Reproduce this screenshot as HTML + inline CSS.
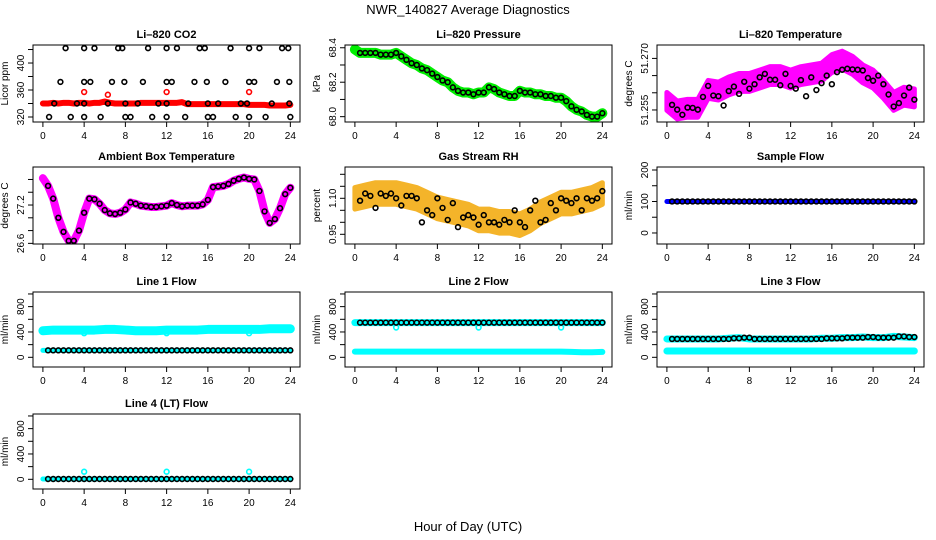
<!DOCTYPE html>
<html><head><meta charset="utf-8"><style>
html,body{margin:0;padding:0;background:#fff;}
svg{display:block;font-family:"Liberation Sans",sans-serif;}
</style></head><body>
<svg id="chart" width="936" height="540" viewBox="0 0 936 540">
<text x="468" y="14" text-anchor="middle" font-size="13">NWR_140827  Average Diagnostics</text>
<text x="468" y="531" text-anchor="middle" font-size="13">Hour of Day (UTC)</text>
</svg>
<script>
// shared hour arrays
const hoursHalf = [0,0.5,1,1.5,2,2.5,3,3.5,4,4.5,5,5.5,6,6.5,7,7.5,8,8.5,9,9.5,10,10.5,11,11.5,12,12.5,13,13.5,14,14.5,15,15.5,16,16.5,17,17.5,18,18.5,19,19.5,20,20.5,21,21.5,22,22.5,23,23.5,24];
const hoursCirc = [0.5,1,1.5,2,2.5,3,3.5,4,4.5,5,5.5,6,6.5,7,7.5,8,8.5,9,9.5,10,10.5,11,11.5,12,12.5,13,13.5,14,14.5,15,15.5,16,16.5,17,17.5,18,18.5,19,19.5,20,20.5,21,21.5,22,22.5,23,23.5,24];
const hoursHourly = [0,1,2,3,4,5,6,7,8,9,10,11,12,13,14,15,16,17,18,19,20,21,22,23,24];
const xTicks = [0,4,8,12,16,20,24];

// CO2
const co2Red = [340,340,341,340,341,341,340,341,341,340,341,341,343,341,340,340,340,340,340,341,341,341,341,341,341,341,341,342,339,339,339,339,339,339,339,339,339,339,339,339,338,338,338,338,337,337,337,337,338];
const co2RedCircT = [4,6.3,12,20];
const co2RedCircV = [357,353,357,357];
const co2BlkT = [2.2,4,5,7.3,7.7,10.2,12,13,15.2,15.7,18.2,20,21,23.2,23.8, 1.7,4,4.6,6.7,7.9,9.7,12,12.5,14.7,15.9,17.7,20,20.5,22.7,23.9, 1.1,3.3,4,6.3,8,9.2,11.2,12,14.1,16,17,19.2,19.8,22.2,23.9, 0.6,2.7,4,5.6,8,8.5,10.6,12,13.8,16,16.5,18.7,20,21.6,24];
const co2BlkV = [422,422,422,422,422,422,422,422,422,422,422,422,422,422,422, 372,372,372,372,372,372,372,372,372,372,372,372,372,372,372, 340,340,340,340,340,340,340,340,340,340,340,340,340,340,340, 320,320,320,320,320,320,320,320,320,320,320,320,320,320,320];

// Pressure
const pres = [68.39,68.37,68.37,68.37,68.37,68.36,68.36,68.36,68.37,68.35,68.33,68.31,68.30,68.28,68.27,68.25,68.23,68.21,68.20,68.17,68.15,68.14,68.14,68.13,68.14,68.14,68.17,68.16,68.14,68.13,68.12,68.12,68.15,68.14,68.14,68.13,68.13,68.12,68.12,68.11,68.11,68.09,68.06,68.04,68.03,68.01,68.00,68.00,68.02];

// Li-820 temperature
const tempTrend = [51.2575,51.2550,51.2555,51.2555,51.2610,51.2605,51.2620,51.2630,51.2630,51.2640,51.2650,51.2650,51.2640,51.2650,51.2655,51.2660,51.2685,51.2695,51.2680,51.2655,51.2640,51.2610,51.2575,51.2590,51.2585];
const tempBlk = [51.2565,51.2551,51.2536,51.2557,51.2556,51.2551,51.2588,51.2620,51.2592,51.2590,51.2563,51.2605,51.2618,51.2597,51.2632,51.2612,51.2625,51.2645,51.2655,51.2638,51.2638,51.2622,51.2655,51.2620,51.2612,51.2637,51.2590,51.2645,51.2608,51.2628,51.2650,51.2625,51.2660,51.2667,51.2670,51.2668,51.2667,51.2665,51.2643,51.2635,51.2650,51.2625,51.2595,51.2560,51.2570,51.2592,51.2615,51.2580];

// Ambient box temperature
const amb = [27.62,27.50,27.30,27.00,26.78,26.64,26.64,26.80,27.08,27.30,27.29,27.22,27.12,27.07,27.06,27.08,27.13,27.24,27.22,27.19,27.18,27.17,27.17,27.18,27.19,27.23,27.20,27.18,27.19,27.19,27.19,27.21,27.28,27.48,27.49,27.50,27.53,27.58,27.61,27.63,27.61,27.60,27.42,27.10,26.92,26.98,27.15,27.37,27.47];

// Gas stream RH
const rhTrend = [1.10,1.11,1.12,1.12,1.12,1.11,1.10,1.08,1.06,1.05,1.04,1.03,1.01,1.01,1.00,1.00,0.99,1.01,1.04,1.06,1.08,1.08,1.09,1.10,1.12];
const rhBlk = [1.09,1.12,1.11,1.06,1.12,1.11,1.12,1.10,1.07,1.11,1.11,1.10,1.00,1.05,1.03,1.10,1.06,1.01,1.08,0.98,1.02,1.03,1.02,0.99,1.03,1.00,1.00,0.99,1.01,1.00,1.05,1.00,0.98,1.05,1.09,1.00,1.01,1.08,1.05,1.10,1.09,1.08,1.10,1.05,1.10,1.09,1.10,1.13];

// Flows (hourly)
const sampleFlow = [100,100,100,100,100,100,100,100,100,100,100,100,100,100,100,100,100,100,100,100,100,100,100,100,100];
const line1Cyan = [420,430,430,430,430,430,440,440,430,420,420,420,430,430,430,430,440,440,440,440,440,440,450,450,450];
const line1Blk = [110,110,110,110,110,110,110,110,110,110,110,110,110,110,110,110,110,110,110,110,110,110,110,110,110];
const line2Blk = [547,547,547,547,547,547,547,547,547,547,547,547,547,547,547,547,547,547,547,547,547,547,547,547,547];
const line2CyanLow = [90,90,90,90,90,90,90,90,90,90,90,90,90,90,90,90,90,90,90,90,90,85,80,80,85];
const line3Blk = [290,290,290,290,290,290,300,310,290,290,290,290,290,290,290,300,300,310,310,320,310,310,330,320,310];
const line3CyanLow = [100,100,100,100,100,100,100,100,100,100,100,100,100,100,100,100,100,100,100,100,100,100,100,100,100];
const line4Blk = [5,5,5,5,5,5,5,5,5,5,5,5,5,5,5,5,5,5,5,5,5,5,5,5,5];
const spikeT = [4,12,20];
const line1SpikeV = [380,380,380];
const line2SpikeV = [470,470,470];
const line4SpikeV = [120,120,120];

const svg = document.getElementById('chart');
const NS = 'http://www.w3.org/2000/svg';
function mk(tag, attrs, parent){
  const e = document.createElementNS(NS, tag);
  for (const k in attrs) e.setAttribute(k, attrs[k]);
  (parent||svg).appendChild(e);
  return e;
}

function panel(o){
  const W = 267, H = o.h;
  const g = mk('g', {});
  
  
  const X = t => o.left + 9.9 + t * 10.31;
  const Y = v => o.top + H - (v - o.ymin) / (o.ymax - o.ymin) * H;
  const t = mk('text', {x: o.left + W/2, y: o.top - 7, 'text-anchor': 'middle', 'font-size': 11, 'font-weight': 'bold'}, g);
  t.textContent = o.title;
  
  
  const yl = mk('text', {transform: `translate(${o.left-25},${o.top+H/2}) rotate(-90)`, 'text-anchor': 'middle', 'font-size': 10}, g);
  yl.textContent = o.ylab;
  
  
  const cid = 'c' + o.name;
  const cp = mk('clipPath', {id: cid}, g);
  mk('rect', {x: o.left, y: o.top, width: W, height: H}, cp);
  const pg = mk('g', {'clip-path': `url(#${cid})`}, g);
  o.draw(pg, X, Y);
  mk('rect', {x: o.left, y: o.top, width: W, height: H, fill: 'none', stroke: '#000', 'stroke-width': 1}, g);
  xTicks.forEach(v => {
    mk('line', {x1: X(v), x2: X(v), y1: o.top + H, y2: o.top + H + 5, stroke: '#000'}, g);
    const tx = mk('text', {x: X(v), y: o.top + H + 17, 'text-anchor': 'middle', 'font-size': 10}, g);
    tx.textContent = v;
    
    
  });
  o.yticks.forEach(v => {
    mk('line', {x1: o.left - 5, x2: o.left, y1: Y(v), y2: Y(v), stroke: '#000'}, g);
  });
  o.ylabels.forEach((lab, i) => {
    const v = o.ylabelVals[i];
    const tx = mk('text', {transform: `translate(${o.left-9},${Y(v)}) rotate(-90)`, 'text-anchor': 'middle', 'font-size': 10}, g);
    tx.textContent = lab;
    
    
  });
}

function circles(g, X, Y, ts, vs, color, name){
  ts.forEach((t, i) => {
    const c = mk('circle', {cx: X(t), cy: Y(vs[i]), r: 2.4, fill: 'none', stroke: color, 'stroke-width': 1.6}, g);
    
    
  });
}
function band(g, X, Y, ts, vs, color, width, name){
  const p = mk('polyline', {points: ts.map((t, i) => X(t) + ',' + Y(vs[i])).join(' '), fill: 'none', stroke: color, 'stroke-width': width, 'stroke-linejoin': 'round', 'stroke-linecap': 'round'}, g);
  
  
}
function envelope(g, X, Y, ts, vs, d, color, name){
  const up = ts.map((t, i) => X(t) + ',' + Y(vs[i] + d));
  const lo = ts.map((t, i) => X(t) + ',' + Y(vs[i] - d)).reverse();
  const p = mk('polygon', {points: up.concat(lo).join(' '), fill: color, stroke: color, 'stroke-width': 5, 'stroke-linejoin': 'round'}, g);
  
  
}

const L = [33, 345, 657];
const T = [45, 167, 292, 414];

panel({name: 'co2-panel', left: L[0], top: T[0], h: 77, ymin: 312.6, ymax: 426.7, title: 'Li\u2013820 CO2', ylab: 'Licor ppm',
  yticks: [320,340,360,380,400,420], ylabels: ['320','360','400'], ylabelVals: [320,360,400],
  draw: (g, X, Y) => {
    band(g, X, Y, hoursHalf, co2Red, '#ff0000', 6, 'co2-red-series');
    circles(g, X, Y, co2RedCircT, co2RedCircV, '#ff0000', 'co2-red-point');
    circles(g, X, Y, co2BlkT, co2BlkV, '#000', 'co2-black-point');
  }});
panel({name: 'pressure-panel', left: L[1], top: T[0], h: 77, ymin: 67.969, ymax: 68.416, title: 'Li\u2013820 Pressure', ylab: 'kPa',
  yticks: [68.0,68.1,68.2,68.3,68.4], ylabels: ['68.0','68.2','68.4'], ylabelVals: [68.0,68.2,68.4],
  draw: (g, X, Y) => {
    band(g, X, Y, hoursHalf, pres, '#00ee00', 10, 'pressure-green-series');
    circles(g, X, Y, hoursCirc, pres.slice(1), '#000', 'pressure-black-point');
  }});
panel({name: 'li820-temp-panel', left: L[2], top: T[0], h: 77, ymin: 51.2515, ymax: 51.2739, title: 'Li\u2013820 Temperature', ylab: 'degrees C',
  yticks: [51.255,51.260,51.265,51.270], ylabels: ['51.255','51.270'], ylabelVals: [51.255,51.270],
  draw: (g, X, Y) => {
    envelope(g, X, Y, hoursHourly, tempTrend, 0.0026, '#ff00ff', 'temp-magenta-band');
    circles(g, X, Y, hoursCirc, tempBlk, '#000', 'temp-black-point');
  }});
panel({name: 'ambient-temp-panel', left: L[0], top: T[1], h: 77, ymin: 26.59, ymax: 27.795, title: 'Ambient Box Temperature', ylab: 'degrees C',
  yticks: [26.6,26.8,27.0,27.2,27.4,27.6], ylabels: ['26.6','27.2'], ylabelVals: [26.6,27.2],
  draw: (g, X, Y) => {
    band(g, X, Y, hoursHalf, amb, '#ff00ff', 8, 'ambient-magenta-series');
    circles(g, X, Y, hoursCirc, amb.slice(1), '#000', 'ambient-black-point');
  }});
panel({name: 'rh-panel', left: L[1], top: T[1], h: 77, ymin: 0.9096, ymax: 1.2304, title: 'Gas Stream RH', ylab: 'percent',
  yticks: [0.95,1.00,1.05,1.10,1.15,1.20], ylabels: ['0.95','1.10'], ylabelVals: [0.95,1.10],
  draw: (g, X, Y) => {
    envelope(g, X, Y, hoursHourly, rhTrend, 0.045, '#f4b42a', 'rh-orange-band');
    circles(g, X, Y, hoursCirc, rhBlk, '#000', 'rh-black-point');
  }});
panel({name: 'sample-flow-panel', left: L[2], top: T[1], h: 77, ymin: -35, ymax: 209.5, title: 'Sample Flow', ylab: 'ml/min',
  yticks: [0,50,100,150,200], ylabels: ['0','100','200'], ylabelVals: [0,100,200],
  draw: (g, X, Y) => {
    band(g, X, Y, hoursHourly, sampleFlow, '#0000ff', 5, 'sample-blue-series');
    circles(g, X, Y, hoursCirc, hoursCirc.map((_, i) => sampleFlow[Math.floor(i/2)]), '#000', 'sample-black-point');
  }});
const flowTicks = [0,200,400,600,800,1000];
const flowLabs = ['0','400','800'];
const flowLabVals = [0,400,800];
function flowPanel(name, left, top, title, drawFn){
  panel({name, left, top, h: 75, ymin: -153, ymax: 1031, title, ylab: 'ml/min', yticks: flowTicks, ylabels: flowLabs, ylabelVals: flowLabVals, draw: drawFn});
}
flowPanel('line1-flow-panel', L[0], T[2], 'Line 1 Flow', (g, X, Y) => {
  band(g, X, Y, hoursHourly, line1Cyan, '#00ffff', 9, 'line1-cyan-series');
  band(g, X, Y, hoursHourly, line1Blk, '#00ffff', 5, 'line1-cyan-low-series');
  circles(g, X, Y, spikeT, line1SpikeV, '#00ffff', 'line1-cyan-point');
  circles(g, X, Y, hoursCirc, hoursCirc.map((_, i) => line1Blk[Math.floor(i/2)]), '#000', 'line1-black-point');
});
flowPanel('line2-flow-panel', L[1], T[2], 'Line 2 Flow', (g, X, Y) => {
  band(g, X, Y, hoursHourly, line2Blk, '#00ffff', 7, 'line2-cyan-high-series');
  band(g, X, Y, hoursHourly, line2CyanLow, '#00ffff', 6, 'line2-cyan-low-series');
  circles(g, X, Y, spikeT, line2SpikeV, '#00ffff', 'line2-cyan-point');
  circles(g, X, Y, hoursCirc, hoursCirc.map((_, i) => line2Blk[Math.floor(i/2)]), '#000', 'line2-black-point');
});
flowPanel('line3-flow-panel', L[2], T[2], 'Line 3 Flow', (g, X, Y) => {
  band(g, X, Y, hoursHourly, line3Blk, '#00ffff', 7, 'line3-cyan-high-series');
  band(g, X, Y, hoursHourly, line3CyanLow, '#00ffff', 7, 'line3-cyan-low-series');
  circles(g, X, Y, hoursCirc, hoursCirc.map((_, i) => line3Blk[Math.floor(i/2)]), '#000', 'line3-black-point');
});
flowPanel('line4-flow-panel', L[0], T[3], 'Line 4 (LT) Flow', (g, X, Y) => {
  band(g, X, Y, hoursHourly, line4Blk, '#00ffff', 5, 'line4-cyan-series');
  circles(g, X, Y, spikeT, line4SpikeV, '#00ffff', 'line4-cyan-point');
  circles(g, X, Y, hoursCirc, hoursCirc.map((_, i) => line4Blk[Math.floor(i/2)]), '#000', 'line4-black-point');
});
</script>
</body></html>
